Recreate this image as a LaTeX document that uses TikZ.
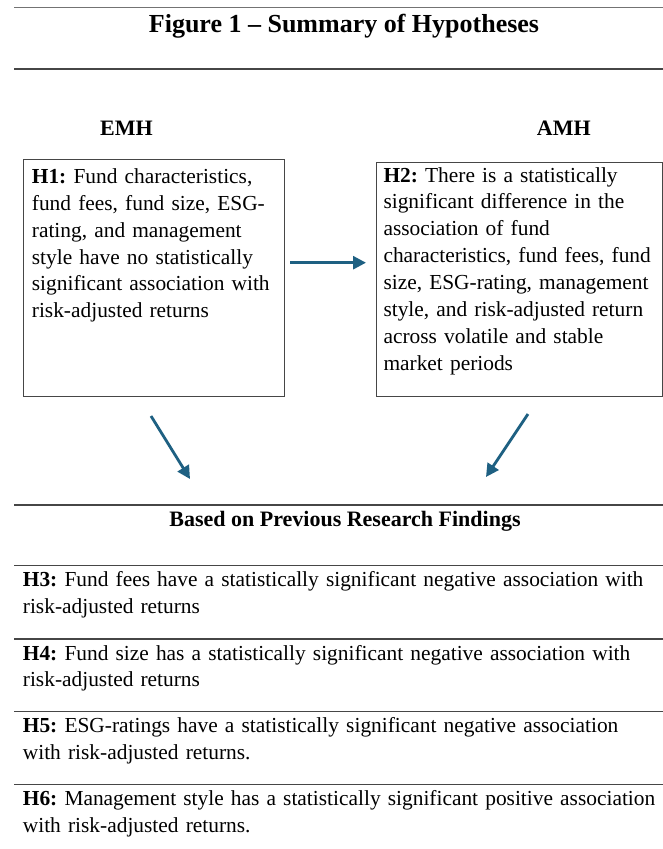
\documentclass[tikz,border=0pt]{standalone}
\usepackage{fontspec}
\setmainfont{Liberation Serif}
\usetikzlibrary{arrows.meta}
\definecolor{arrowblue}{RGB}{30,96,130}
\definecolor{rulegray}{RGB}{70,70,70}
\definecolor{toprule}{RGB}{115,115,115}
\tikzset{
  x=1pt, y=-1pt,
  body/.style={font=\frenchspacing\fontsize{21.4}{26.9}\selectfont, inner sep=0pt, anchor=base west, text width=700pt, align=left},
  headtext/.style={font=\bfseries\fontsize{22}{26.9}\selectfont, inner sep=0pt, anchor=base},
  hbox/.style={draw=rulegray, line width=1pt},
  rulel/.style={draw=rulegray, line width=1.2pt},
  flow/.style={draw=arrowblue, line width=2.8pt, -{Triangle[length=13pt,width=13pt]}}
}
\begin{document}
\frenchspacing
\begin{tikzpicture}
\useasboundingbox (0,0) rectangle (663,849);

% title band
\draw[draw=toprule, line width=1.5pt] (14,7.5) -- (663,7.5);
\node[font=\bfseries\fontsize{26}{30}\selectfont, inner sep=0pt, anchor=base] (title) at (344,32.3) {Figure 1 -- Summary of Hypotheses};
\draw[rulel] (14,69) -- (663,69);

% theory headings
\node[headtext, anchor=base west] (emh) at (100,135) {EMH};
\node[headtext, anchor=base west] (amh) at (536.7,135) {AMH};

% hypothesis boxes
\draw[hbox] (23.3,159) rectangle (284,396.7);
\node[body] (h1) at (31.7,183.3)
  {\textbf{H1:} Fund characteristics,\\fund fees, fund size, ESG-\\rating, and management\\style have no statistically\\significant association with\\risk-adjusted returns};
\draw[hbox] (376.7,162) rectangle (662,396.7);
\node[body] (h2) at (383.3,182)
  {\textbf{H2:} There is a statistically\\significant difference in the\\association of fund\\characteristics, fund fees, fund\\size, ESG-rating, management\\style, and risk-adjusted return\\across volatile and stable\\market periods};

% connectors
\coordinate (r1) at (290,262.7);
\coordinate (r2) at (366,262.7);
\coordinate (d1s) at (151,416);
\coordinate (d1e) at (190,479);
\coordinate (d2s) at (528,414);
\coordinate (d2e) at (486,477);
\draw[flow] (r1) -- (r2);
\draw[flow] (d1s) -- (d1e);
\draw[flow] (d2s) -- (d2e);

% previous research findings
\draw[rulel] (14,505) -- (663,505);
\node[headtext] (prev) at (345,526.7) {Based on Previous Research Findings};

\draw[rulel] (14,565.7) -- (663,565.7);
\node[body] (h3) at (22.7,586.7)
  {\textbf{H3:} Fund fees have a statistically significant negative association with\\risk-adjusted returns};
\draw[rulel] (14,639) -- (663,639);
\node[body] (h4) at (22.7,660)
  {\textbf{H4:} Fund size has a statistically significant negative association with\\risk-adjusted returns};
\draw[rulel] (14,711.7) -- (663,711.7);
\node[body] (h5) at (22.7,732.7)
  {\textbf{H5:} ESG-ratings have a statistically significant negative association\\with risk-adjusted returns.};
\draw[rulel] (14,784.3) -- (663,784.3);
\node[body] (h6) at (22.7,805.7)
  {\textbf{H6:} Management style has a statistically significant positive association\\with risk-adjusted returns.};
\end{tikzpicture}
\end{document}
